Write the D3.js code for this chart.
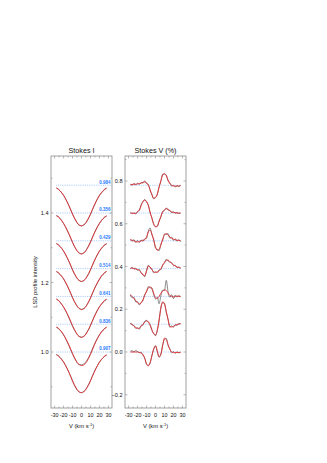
<!DOCTYPE html>
<html><head><meta charset="utf-8">
<script src="https://cdn.jsdelivr.net/npm/d3@7"></script>
<style>html,body{margin:0;padding:0;background:#fff;}svg{display:block;}</style>
</head><body>
<svg id="c" width="327" height="463"></svg>
<script>
// ---- data ----
const velocities = [-28,-26,-24,-22,-20,-18,-16,-14,-12,-10,-8,-6,-4,-2,0,2,4,6,8,10,12,14,16,18,20,22,24,26,28];
const phases = ["0.907","0.836","0.641","0.514","0.429","0.356","0.984"]; // bottom to top
const xTicks = [-30,-20,-10,0,10,20,30];
const iTicks = [1.0,1.2,1.4];
const vTicks = [-0.2,0.0,0.2,0.4,0.6,0.8];
const iOffsetStep = 0.08;
const vOffsetStep = 0.13;

// Stokes I (normalised), bottom to top
const iModel1 = [0.992,0.989,0.984,0.978,0.971,0.962,0.952,0.941,0.929,0.917,0.906,0.897,0.889,0.885,0.883,0.885,0.889,0.897,0.906,0.917,0.929,0.941,0.952,0.962,0.971,0.978,0.984,0.989,0.992];
const iObs1   = [0.993,0.990,0.985,0.979,0.972,0.963,0.953,0.942,0.930,0.917,0.905,0.895,0.888,0.884,0.883,0.886,0.890,0.898,0.907,0.918,0.930,0.942,0.953,0.962,0.971,0.978,0.983,0.988,0.991];
const iModel2 = [0.992,0.989,0.984,0.978,0.970,0.961,0.951,0.940,0.928,0.916,0.905,0.895,0.887,0.883,0.881,0.882,0.886,0.893,0.902,0.913,0.925,0.938,0.950,0.960,0.969,0.977,0.983,0.988,0.992];
const iObs2   = [0.991,0.988,0.983,0.977,0.969,0.960,0.949,0.938,0.926,0.914,0.903,0.894,0.887,0.884,0.883,0.885,0.889,0.896,0.905,0.916,0.928,0.940,0.951,0.961,0.970,0.977,0.983,0.988,0.991];
const iModel3 = [0.992,0.989,0.984,0.977,0.970,0.961,0.951,0.940,0.928,0.916,0.905,0.896,0.888,0.884,0.882,0.884,0.888,0.896,0.905,0.916,0.928,0.940,0.951,0.961,0.970,0.977,0.984,0.989,0.992];
const iObs3   = [0.993,0.989,0.984,0.977,0.969,0.960,0.950,0.938,0.926,0.914,0.904,0.895,0.888,0.884,0.883,0.885,0.889,0.897,0.906,0.917,0.929,0.941,0.952,0.962,0.970,0.977,0.983,0.988,0.991];
const iModel4 = [0.992,0.989,0.984,0.978,0.971,0.962,0.952,0.941,0.929,0.917,0.906,0.897,0.889,0.884,0.882,0.884,0.888,0.896,0.905,0.916,0.928,0.940,0.951,0.961,0.970,0.978,0.984,0.989,0.992];
const iObs4   = [0.991,0.988,0.983,0.977,0.970,0.961,0.951,0.940,0.928,0.916,0.905,0.896,0.889,0.885,0.883,0.884,0.888,0.895,0.904,0.915,0.927,0.939,0.950,0.960,0.969,0.977,0.983,0.988,0.992];
const iModel5 = [0.992,0.989,0.984,0.978,0.971,0.962,0.952,0.941,0.929,0.917,0.906,0.897,0.889,0.885,0.883,0.885,0.889,0.897,0.906,0.917,0.929,0.941,0.952,0.962,0.971,0.978,0.984,0.989,0.992];
const iObs5   = [0.992,0.989,0.984,0.978,0.970,0.961,0.951,0.940,0.928,0.916,0.905,0.896,0.889,0.885,0.883,0.885,0.889,0.896,0.905,0.916,0.928,0.940,0.951,0.961,0.970,0.977,0.983,0.988,0.991];
const iModel6 = [0.992,0.989,0.984,0.978,0.970,0.961,0.951,0.940,0.928,0.916,0.905,0.896,0.888,0.884,0.882,0.884,0.888,0.896,0.905,0.916,0.928,0.940,0.951,0.961,0.970,0.978,0.984,0.989,0.992];
const iObs6   = [0.993,0.990,0.985,0.978,0.970,0.961,0.950,0.939,0.927,0.915,0.904,0.895,0.888,0.884,0.883,0.885,0.889,0.897,0.906,0.917,0.929,0.941,0.952,0.962,0.970,0.977,0.983,0.988,0.991];
const iModel7 = [0.992,0.989,0.984,0.978,0.971,0.962,0.952,0.941,0.929,0.917,0.906,0.897,0.889,0.885,0.883,0.885,0.889,0.897,0.906,0.917,0.929,0.941,0.952,0.962,0.971,0.978,0.984,0.989,0.992];
const iObs7   = [0.992,0.989,0.984,0.978,0.971,0.962,0.952,0.941,0.929,0.917,0.906,0.896,0.888,0.884,0.883,0.885,0.889,0.896,0.905,0.916,0.928,0.940,0.951,0.961,0.970,0.977,0.983,0.988,0.991];

// Stokes V (%), relative to each baseline, bottom to top
const vModel1 = [0.000,0.000,0.000,0.000,0.000,-0.002,-0.005,-0.012,-0.030,-0.055,-0.065,-0.050,-0.018,0.015,0.028,0.005,-0.022,-0.012,0.030,0.065,0.058,0.035,0.012,0.000,-0.003,-0.003,-0.002,-0.002,-0.002];
const vObs1   = [0.004,0.006,0.001,0.007,0.002,-0.003,-0.001,-0.015,-0.028,-0.058,-0.062,-0.052,-0.015,0.012,0.030,0.001,-0.025,-0.008,0.033,0.060,0.064,0.030,0.015,-0.004,0.002,-0.006,0.001,-0.004,0.000];
const vModel2 = [0.003,0.000,-0.010,-0.015,-0.020,-0.018,-0.010,0.000,0.010,0.015,0.012,-0.005,-0.025,-0.045,-0.050,-0.030,0.020,0.075,0.105,0.095,0.060,0.020,-0.010,-0.013,-0.010,-0.005,-0.002,0.000,0.003];
const vObs2   = [0.006,-0.004,-0.006,-0.020,-0.016,-0.024,-0.006,-0.004,0.014,0.018,0.008,-0.002,-0.030,-0.042,-0.054,-0.026,0.016,0.080,0.100,0.098,0.055,0.025,-0.014,-0.008,-0.014,-0.002,-0.006,0.004,0.001];
const vModel3 = [0.005,0.000,-0.010,-0.020,-0.030,-0.035,-0.030,-0.015,0.005,0.025,0.040,0.045,0.035,0.015,-0.005,-0.010,0.000,0.015,0.025,0.030,0.028,0.015,0.005,0.000,-0.002,0.000,0.002,0.000,0.000];
const vObs3   = [0.010,-0.006,-0.004,-0.026,-0.024,-0.040,-0.028,-0.020,0.010,0.020,0.046,0.040,0.040,0.008,-0.012,-0.004,-0.034,0.004,0.030,0.028,0.075,0.022,-0.004,0.008,-0.010,0.006,-0.004,0.004,-0.002];
const vModel4 = [0.002,0.003,0.001,-0.002,-0.004,-0.008,-0.018,-0.030,-0.033,-0.012,0.012,0.008,-0.005,-0.015,-0.018,-0.015,-0.010,0.000,0.015,0.030,0.038,0.040,0.033,0.025,0.018,0.012,0.008,0.005,0.004];
const vObs4   = [0.000,0.006,-0.003,0.002,-0.008,-0.004,-0.022,-0.026,-0.038,-0.008,0.016,0.004,-0.002,-0.020,-0.014,-0.019,-0.006,-0.004,0.018,0.026,0.044,0.036,0.030,0.028,0.014,0.016,0.004,0.008,0.000];
const vModel5 = [0.005,0.003,0.000,-0.003,-0.005,-0.003,0.000,0.003,0.005,0.018,0.042,0.050,0.032,0.002,-0.028,-0.044,-0.040,-0.020,0.008,0.028,0.034,0.028,0.018,0.012,0.008,0.005,0.003,0.002,0.000];
const vObs5   = [0.008,-0.002,0.006,-0.008,0.002,-0.008,0.004,-0.002,0.010,0.012,0.046,0.060,0.028,0.008,-0.034,-0.040,-0.046,-0.014,0.002,0.032,0.030,0.034,0.012,0.018,0.002,0.010,-0.002,0.006,-0.004];
const vModel6 = [0.000,0.000,-0.002,0.000,0.005,0.015,0.035,0.055,0.060,0.055,0.035,0.005,-0.025,-0.050,-0.065,-0.060,-0.040,-0.015,0.005,0.015,0.020,0.018,0.010,0.005,0.003,0.002,0.000,0.000,0.000];
const vObs6   = [0.002,-0.003,0.001,-0.004,0.008,0.012,0.040,0.052,0.064,0.050,0.038,0.000,-0.022,-0.054,-0.062,-0.063,-0.036,-0.018,0.008,0.012,0.024,0.014,0.013,0.002,0.006,-0.001,0.003,-0.002,0.001];
const vModel7 = [0.003,0.004,0.005,0.005,0.006,0.008,0.010,0.014,0.016,0.012,0.000,-0.020,-0.045,-0.060,-0.058,-0.040,-0.010,0.022,0.048,0.055,0.045,0.025,0.008,0.000,-0.003,-0.004,-0.004,-0.003,-0.002];
const vObs7   = [0.006,0.000,0.009,0.002,0.010,0.004,0.013,0.010,0.020,0.008,0.004,-0.024,-0.042,-0.064,-0.055,-0.044,-0.006,0.018,0.052,0.052,0.048,0.020,0.012,-0.004,0.000,-0.008,-0.001,-0.006,0.000];

const iModels = [iModel1,iModel2,iModel3,iModel4,iModel5,iModel6,iModel7];
const iObs = [iObs1,iObs2,iObs3,iObs4,iObs5,iObs6,iObs7];
const vModels = [vModel1,vModel2,vModel3,vModel4,vModel5,vModel6,vModel7];
const vObs = [vObs1,vObs2,vObs3,vObs4,vObs5,vObs6,vObs7];

// ---- drawing ----
const svg = d3.select("#c");
const FONT = "Liberation Sans, Arial, sans-serif";
const frameCol = "#8a8a8a";
const yTop = 156, yBot = 408;

function panel(x0, x1, yDomain, opts){
  const g = svg.append("g");
  const x = d3.scaleLinear().domain([-34,34]).range([x0,x1]);
  const y = d3.scaleLinear().domain(yDomain).range([yBot, yTop]);
  const minorY = d3.range(Math.ceil(yDomain[0]*10), Math.floor(yDomain[1]*10)+1).map(d=>d/10);
  const tickG = g.append("g").attr("stroke", frameCol).attr("stroke-width",0.6);
  minorY.forEach(v=>{
    const major = opts.yTicks.some(t=>Math.abs(t-v)<1e-6);
    const len = major?2.5:1.5;
    tickG.append("line").attr("x1",x0).attr("x2",x0+len).attr("y1",y(v)).attr("y2",y(v));
    tickG.append("line").attr("x1",x1).attr("x2",x1-len).attr("y1",y(v)).attr("y2",y(v));
  });
  d3.range(-30,31,5).forEach(v=>{
    const len = v%10===0?2.5:1.5;
    tickG.append("line").attr("x1",x(v)).attr("x2",x(v)).attr("y1",yBot).attr("y2",yBot-len);
    tickG.append("line").attr("x1",x(v)).attr("x2",x(v)).attr("y1",yTop).attr("y2",yTop+len);
  });
  g.append("g").selectAll("text").data(opts.yTicks).join("text")
    .attr("x", x0-2.5).attr("y", d=>y(d)+2).attr("text-anchor","end")
    .attr("font-family",FONT).attr("font-size",5.6).attr("fill","#111")
    .text(d=>d3.format(".1f")(d));
  g.append("g").selectAll("text").data(xTicks).join("text")
    .attr("x", d=>x(d)).attr("y", 417).attr("text-anchor","middle")
    .attr("font-family",FONT).attr("font-size",5.4).attr("fill","#111")
    .text(d=>d);
  const xl = g.append("text").attr("x",(x0+x1)/2).attr("y",428).attr("text-anchor","middle")
    .attr("font-family",FONT).attr("font-size",5.8).attr("fill","#111");
  xl.append("tspan").text("V (km s");
  xl.append("tspan").attr("dy",-2).attr("font-size",4).text("-1");
  xl.append("tspan").attr("dy",2).text(")");
  g.append("text").attr("x",(x0+x1)/2).attr("y",152.5).attr("text-anchor","middle")
    .attr("font-family",FONT).attr("font-size",7.2).attr("fill","#111").text(opts.title);
  const line = d3.line().x((d,i)=>x(velocities[i])).y(d=>y(d)).curve(d3.curveMonotoneX);
  for(let k=0;k<7;k++){
    const off = opts.base + opts.step*k;
    g.append("line").attr("x1",x(opts.dotFrom)).attr("x2",x(opts.dotTo))
      .attr("y1",y(off)).attr("y2",y(off))
      .attr("stroke","#7eb0f7").attr("stroke-width",0.75).attr("stroke-dasharray","0.8,1");
    g.append("path").datum(opts.obs[k].map(v=>v+off-opts.base*opts.shiftBase))
      .attr("d", line).attr("fill","none").attr("stroke","#555").attr("stroke-width",0.7);
    g.append("path").datum(opts.mod[k].map(v=>v+off-opts.base*opts.shiftBase))
      .attr("d", line).attr("fill","none").attr("stroke","#e8262b").attr("stroke-width",0.85);
    if(opts.labels){
      g.append("text").attr("x",x1-1.5).attr("y",y(off)-1.6).attr("text-anchor","end")
        .attr("font-family",FONT).attr("font-size",4.5).attr("font-weight","bold").attr("fill","#1f78ff").text(phases[k]);
    }
  }
  g.append("rect").attr("x",x0).attr("y",yTop).attr("width",x1-x0).attr("height",yBot-yTop)
    .attr("fill","none").attr("stroke",frameCol).attr("stroke-width",0.8);
  return g;
}

panel(51,112,[0.839,1.564],{yTicks:iTicks,title:"Stokes I",base:1.0,step:iOffsetStep,shiftBase:1,
  obs:iObs,mod:iModels,labels:true,dotFrom:-28,dotTo:34});
panel(125,186,[-0.262,0.917],{yTicks:vTicks,title:"Stokes V (%)",base:0.0,step:vOffsetStep,shiftBase:0,
  obs:vObs,mod:vModels,labels:false,dotFrom:-28,dotTo:28});

svg.append("text").attr("transform","translate(37,282) rotate(-90)").attr("text-anchor","middle")
  .attr("font-family",FONT).attr("font-size",5.8).attr("fill","#111").text("LSD profile intensity");
</script>
</body></html>
